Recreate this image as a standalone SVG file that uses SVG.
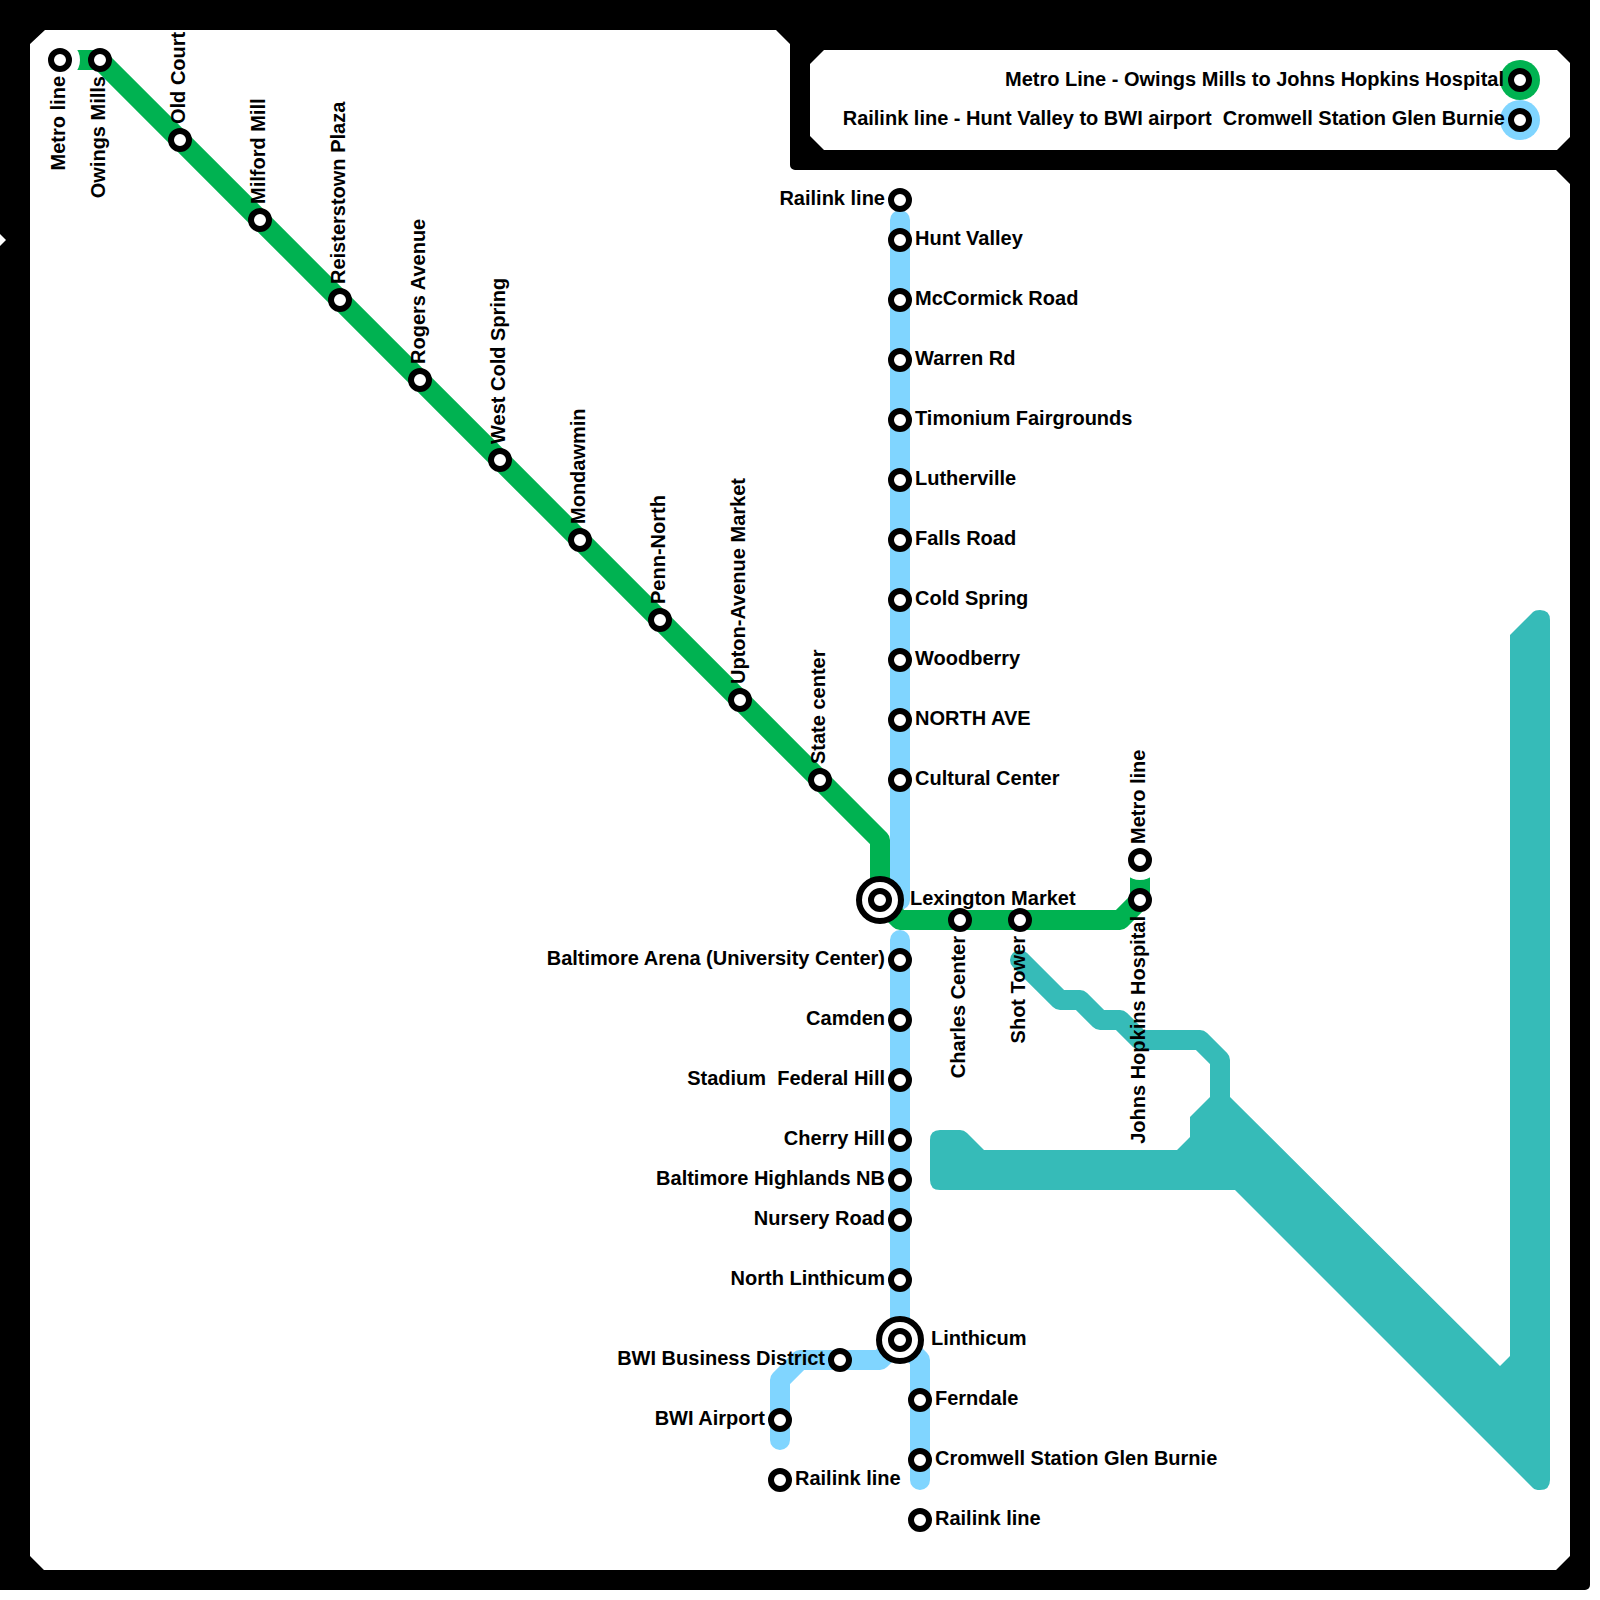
<svg xmlns="http://www.w3.org/2000/svg" width="1600" height="1600" viewBox="0 0 1600 1600">
<style>
text{font-family:"Liberation Sans",Arial,sans-serif;font-weight:bold;font-size:20px;fill:#000;white-space:pre}
.e{text-anchor:end}
.line{fill:none;stroke-width:20;stroke-linejoin:round}
.m{stroke:#00b251}
.r{stroke:#80d5ff;stroke-linecap:round}
.t{stroke:#36bbb8;stroke-linecap:round}
.st{fill:#fff;stroke:#000;stroke-width:6}
</style>
<defs>
<g id="s"><circle r="9" class="st"/></g>
<g id="x"><circle r="21" class="st"/><circle r="9" class="st"/></g>
</defs>
<rect width="1600" height="1600" fill="#fff"/>
<path id="frame" fill="#000" d="M0 0H1590V1585a5 5 0 0 1-5 5H0Z"/>
<path fill="#fff" d="M45 30H776L790 44V165a5 5 0 0 0 5 5H1556L1570 184V1556L1556 1570H44L30 1556V44Z"/>
<path fill="#fff" d="M824 50H1557L1570 63V137L1557 150H824L810 136V64Z"/>
<path fill="#fff" d="M0 234L6 240L0 246Z"/>
<g id="connectors">
<path class="line t" d="M1020 960L1060 1000H1080L1100 1020H1120L1140 1040H1200L1220 1060V1110"/>
<path fill="#36bbb8" d="M940 1130H960Q964 1130 967 1133L984 1150H1177L1190 1137V1117L1210 1097H1230L1500 1366L1510 1356V635L1533 612Q1535 610 1540 610Q1550 610 1550 620V1480Q1550 1490 1540 1490Q1535 1490 1533 1488L1235 1190H940Q930 1190 930 1180V1140Q930 1130 940 1130Z"/>
<path class="line r" d="M900 220V900"/>
<path class="line r" d="M900 940V1340L880 1360H800L780 1380V1440"/>
<path class="line r" d="M900 1340L920 1360V1480"/>
<path class="line m" d="M60 60H100L880 840V900L900 920H1120L1140 900V860"/>
</g>
<g id="legend">
<circle cx="1520" cy="80" r="20" fill="#00b251"/>
<circle cx="1520" cy="120" r="20" fill="#80d5ff"/>
<use href="#s" x="1520" y="80"/><use href="#s" x="1520" y="120"/>
<text class="e" x="1504" y="86">Metro Line - Owings Mills to Johns Hopkins Hospital</text>
<text class="e" x="1505" y="125">Railink line - Hunt Valley to BWI airport  Cromwell Station Glen Burnie</text>
</g>
<g id="metro-line-w"><circle cx="60" cy="60" r="20" fill="#fff"/><use href="#s" x="60" y="60"/><text class="e" transform="translate(65 76) rotate(-90)">Metro line</text></g>
<g id="owings-mills"><use href="#s" x="100" y="60"/><text transform="translate(105 76) rotate(-90)" class="e">Owings Mills</text></g>
<g id="old-court"><use href="#s" x="180" y="140"/><text transform="translate(185 124) rotate(-90)">Old Court</text></g>
<g id="milford-mill"><use href="#s" x="260" y="220"/><text transform="translate(265 204) rotate(-90)">Milford Mill</text></g>
<g id="reisterstown-plaza"><use href="#s" x="340" y="300"/><text transform="translate(345 284) rotate(-90)">Reisterstown Plaza</text></g>
<g id="rogers-avenue"><use href="#s" x="420" y="380"/><text transform="translate(425 364) rotate(-90)">Rogers Avenue</text></g>
<g id="west-cold-spring"><use href="#s" x="500" y="460"/><text transform="translate(505 444) rotate(-90)">West Cold Spring</text></g>
<g id="mondawmin"><use href="#s" x="580" y="540"/><text transform="translate(585 524) rotate(-90)">Mondawmin</text></g>
<g id="penn-north"><use href="#s" x="660" y="620"/><text transform="translate(665 604) rotate(-90)">Penn-North</text></g>
<g id="upton"><use href="#s" x="740" y="700"/><text transform="translate(745 684) rotate(-90)">Upton-Avenue Market</text></g>
<g id="state-center"><use href="#s" x="820" y="780"/><text transform="translate(825 764) rotate(-90)">State center</text></g>
<g id="lexington"><use href="#x" x="880" y="900"/><text x="910" y="905">Lexington Market</text></g>
<g id="charles"><use href="#s" x="960" y="920"/><text class="e" transform="translate(965 936) rotate(-90)">Charles Center</text></g>
<g id="shot"><use href="#s" x="1020" y="920"/><text class="e" transform="translate(1025 936) rotate(-90)">Shot Tower</text></g>
<g id="jhh"><use href="#s" x="1140" y="900"/><text class="e" transform="translate(1145 916) rotate(-90)">Johns Hopkins Hospital</text></g>
<g id="metro-line-e"><circle cx="1140" cy="860" r="20" fill="#fff"/><use href="#s" x="1140" y="860"/><text transform="translate(1145 844) rotate(-90)">Metro line</text></g>
<g id="railink-n"><use href="#s" x="900" y="200"/><text class="e" x="885" y="205">Railink line</text></g>
<g id="hunt"><use href="#s" x="900" y="240"/><text x="915" y="245">Hunt Valley</text></g>
<g id="mccormick"><use href="#s" x="900" y="300"/><text x="915" y="305">McCormick Road</text></g>
<g id="warren"><use href="#s" x="900" y="360"/><text x="915" y="365">Warren Rd</text></g>
<g id="timonium"><use href="#s" x="900" y="420"/><text x="915" y="425">Timonium Fairgrounds</text></g>
<g id="lutherville"><use href="#s" x="900" y="480"/><text x="915" y="485">Lutherville</text></g>
<g id="falls"><use href="#s" x="900" y="540"/><text x="915" y="545">Falls Road</text></g>
<g id="cold"><use href="#s" x="900" y="600"/><text x="915" y="605">Cold Spring</text></g>
<g id="woodberry"><use href="#s" x="900" y="660"/><text x="915" y="665">Woodberry</text></g>
<g id="north"><use href="#s" x="900" y="720"/><text x="915" y="725">NORTH AVE</text></g>
<g id="cultural"><use href="#s" x="900" y="780"/><text x="915" y="785">Cultural Center</text></g>
<g id="arena"><use href="#s" x="900" y="960"/><text class="e" x="885" y="965">Baltimore Arena (University Center)</text></g>
<g id="camden"><use href="#s" x="900" y="1020"/><text class="e" x="885" y="1025">Camden</text></g>
<g id="stadium"><use href="#s" x="900" y="1080"/><text class="e" x="885" y="1085">Stadium  Federal Hill</text></g>
<g id="cherry"><use href="#s" x="900" y="1140"/><text class="e" x="885" y="1145">Cherry Hill</text></g>
<g id="highlands"><use href="#s" x="900" y="1180"/><text class="e" x="885" y="1185">Baltimore Highlands NB</text></g>
<g id="nursery"><use href="#s" x="900" y="1220"/><text class="e" x="885" y="1225">Nursery Road</text></g>
<g id="n-linthicum"><use href="#s" x="900" y="1280"/><text class="e" x="885" y="1285">North Linthicum</text></g>
<g id="linthicum"><use href="#x" x="900" y="1340"/><text x="931" y="1345">Linthicum</text></g>
<g id="bwi-bd"><use href="#s" x="840" y="1360"/><text class="e" x="825" y="1365">BWI Business District</text></g>
<g id="bwi"><use href="#s" x="780" y="1420"/><text class="e" x="765" y="1425">BWI Airport</text></g>
<g id="railink-w"><use href="#s" x="780" y="1480"/><text x="795" y="1485">Railink line</text></g>
<g id="ferndale"><use href="#s" x="920" y="1400"/><text x="935" y="1405">Ferndale</text></g>
<g id="cromwell"><use href="#s" x="920" y="1460"/><text x="935" y="1465">Cromwell Station Glen Burnie</text></g>
<g id="railink-s"><use href="#s" x="920" y="1520"/><text x="935" y="1525">Railink line</text></g>
</svg>
